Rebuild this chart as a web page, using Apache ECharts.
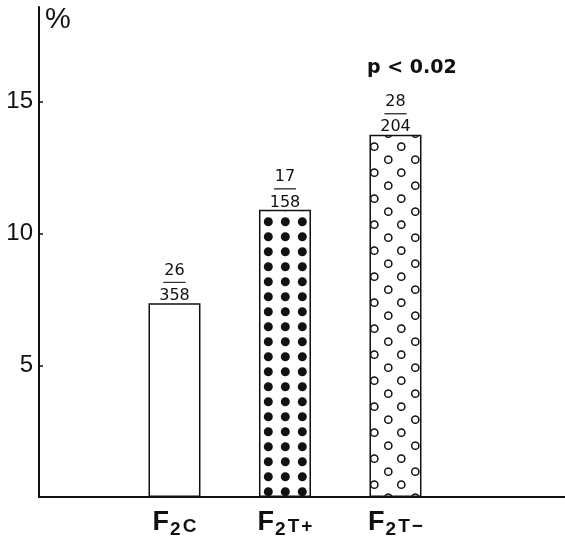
<!DOCTYPE html>
<html>
<head>
<meta charset="utf-8">
<script src="https://cdn.jsdelivr.net/npm/echarts@6/dist/echarts.min.js"></script>
<style>
  html, body { margin: 0; padding: 0; background: #fff; }
  #chart-div { width: 565px; height: 539px; }
</style>
</head>
<body>
<div id="chart-div"></div>
<script>
// data
const categories = ['F2C', 'F2T+', 'F2T−']
const percents = [7.35, 10.9, 13.75]
const numerators = [26, 17, 28]
const denominators = [358, 158, 204]
const yTicks = [5, 10, 15]
const xPositions = [1, 2, 3]
const pValueText = 'p < 0.02'

const ink = '#111'

// fill textures (tile offsets so the dots line up like in the print)
function dotsTile() {
    const c = document.createElement('canvas')
    c.width = 17; c.height = 15
    const ctx = c.getContext('2d')
    ctx.fillStyle = '#fff'
    ctx.fillRect(0, 0, 17, 15)
    ctx.fillStyle = ink
    for (let dx = -1; dx <= 1; dx++) {
        for (let dy = -1; dy <= 1; dy++) {
            ctx.beginPath()
            ctx.arc(13.3 + dx * 17, 11.7 + dy * 15, 4.5, 0, Math.PI * 2)
            ctx.fill()
        }
    }
    return c
}

function ringsTile() {
    const c = document.createElement('canvas')
    c.width = 27; c.height = 26
    const ctx = c.getContext('2d')
    ctx.fillStyle = '#fff'
    ctx.fillRect(0, 0, 27, 26)
    ctx.strokeStyle = ink
    ctx.lineWidth = 1.5
    const centers = [[10.3, 3.7], [23.3, 16.7]]
    centers.forEach(p => {
        for (let dx = -1; dx <= 1; dx++) {
            for (let dy = -1; dy <= 1; dy++) {
                ctx.beginPath()
                ctx.arc(p[0] + dx * 27, p[1] + dy * 26, 3.6, 0, Math.PI * 2)
                ctx.stroke()
            }
        }
    })
    return c
}

const fills = [
    '#fff',
    { image: dotsTile(), repeat: 'repeat' },
    { image: ringsTile(), repeat: 'repeat' }
]

const barData = categories.map((name, i) => ({
    name: name,
    value: [xPositions[i], percents[i]],
    itemStyle: { color: fills[i] }
}))

const labelFont = { fontWeight: 'bold', fontFamily: 'Liberation Sans', color: ink, verticalAlign: 'bottom' }

let myChart = echarts.init(document.getElementById('chart-div'))

const option = {
    animation: false,
    grid: { left: 39, right: 0, top: 7, bottom: 41 },
    xAxis: {
        type: 'value',
        min: -0.226,
        max: 4.534,
        splitLine: { show: false },
        axisTick: { show: false },
        axisLine: { lineStyle: { color: ink, width: 2 } },
        axisLabel: {
            customValues: xPositions,
            margin: 12,
            color: ink,
            fontFamily: 'Liberation Sans',
            formatter: function (v) {
                const name = categories[xPositions.indexOf(v)] || ''
                const rest = name.slice(2).split('').map(ch => `{r|${ch}}`).join('')
                return `{f|${name[0]}}{s|${name[1]}}${rest}`
            },
            rich: {
                f: Object.assign({ fontSize: 27, padding: [0, 0, 3, 0] }, labelFont),
                s: Object.assign({ fontSize: 19, padding: [0, 0, 0, 1] }, labelFont),
                r: Object.assign({ fontSize: 19, padding: [0, 0, 3, 2] }, labelFont)
            }
        }
    },
    yAxis: {
        type: 'value',
        min: 0,
        max: 18.6,
        interval: 5,
        name: '%',
        nameLocation: 'end',
        nameGap: 2,
        nameTextStyle: {
            fontFamily: 'Liberation Sans', fontSize: 29, color: ink,
            align: 'left', verticalAlign: 'top', padding: [0, 0, 0, 6]
        },
        splitLine: { show: false },
        axisLine: { onZero: false, lineStyle: { color: ink, width: 2 } },
        axisTick: { customValues: yTicks, inside: true, length: 4, lineStyle: { color: ink, width: 1.5 } },
        axisLabel: { customValues: yTicks, margin: 6, color: ink, fontFamily: 'Liberation Sans', fontSize: 24 }
    },
    series: [{
        type: 'bar',
        barWidth: 52,
        data: barData,
        itemStyle: { borderColor: ink, borderWidth: 1.5 },
        label: {
            show: true,
            position: 'top',
            distance: 0,
            formatter: function (p) {
                return `{n|${numerators[p.dataIndex]}}\n{l|}\n{d|${denominators[p.dataIndex]}}`
            },
            rich: {
                n: { fontFamily: 'DejaVu Sans', fontSize: 16, color: ink, lineHeight: 12, align: 'center' },
                l: { width: 22, height: 0, borderColor: ink, borderWidth: 0.75, lineHeight: 12, align: 'center' },
                d: { fontFamily: 'DejaVu Sans', fontSize: 16, color: ink, lineHeight: 15, align: 'center' }
            }
        }
    }],
    graphic: [{
        type: 'text',
        left: 367,
        top: 59,
        style: { text: pValueText, font: 'bold 19px "DejaVu Sans"', fill: ink }
    }]
}

myChart.setOption(option)
</script>
</body>
</html>
